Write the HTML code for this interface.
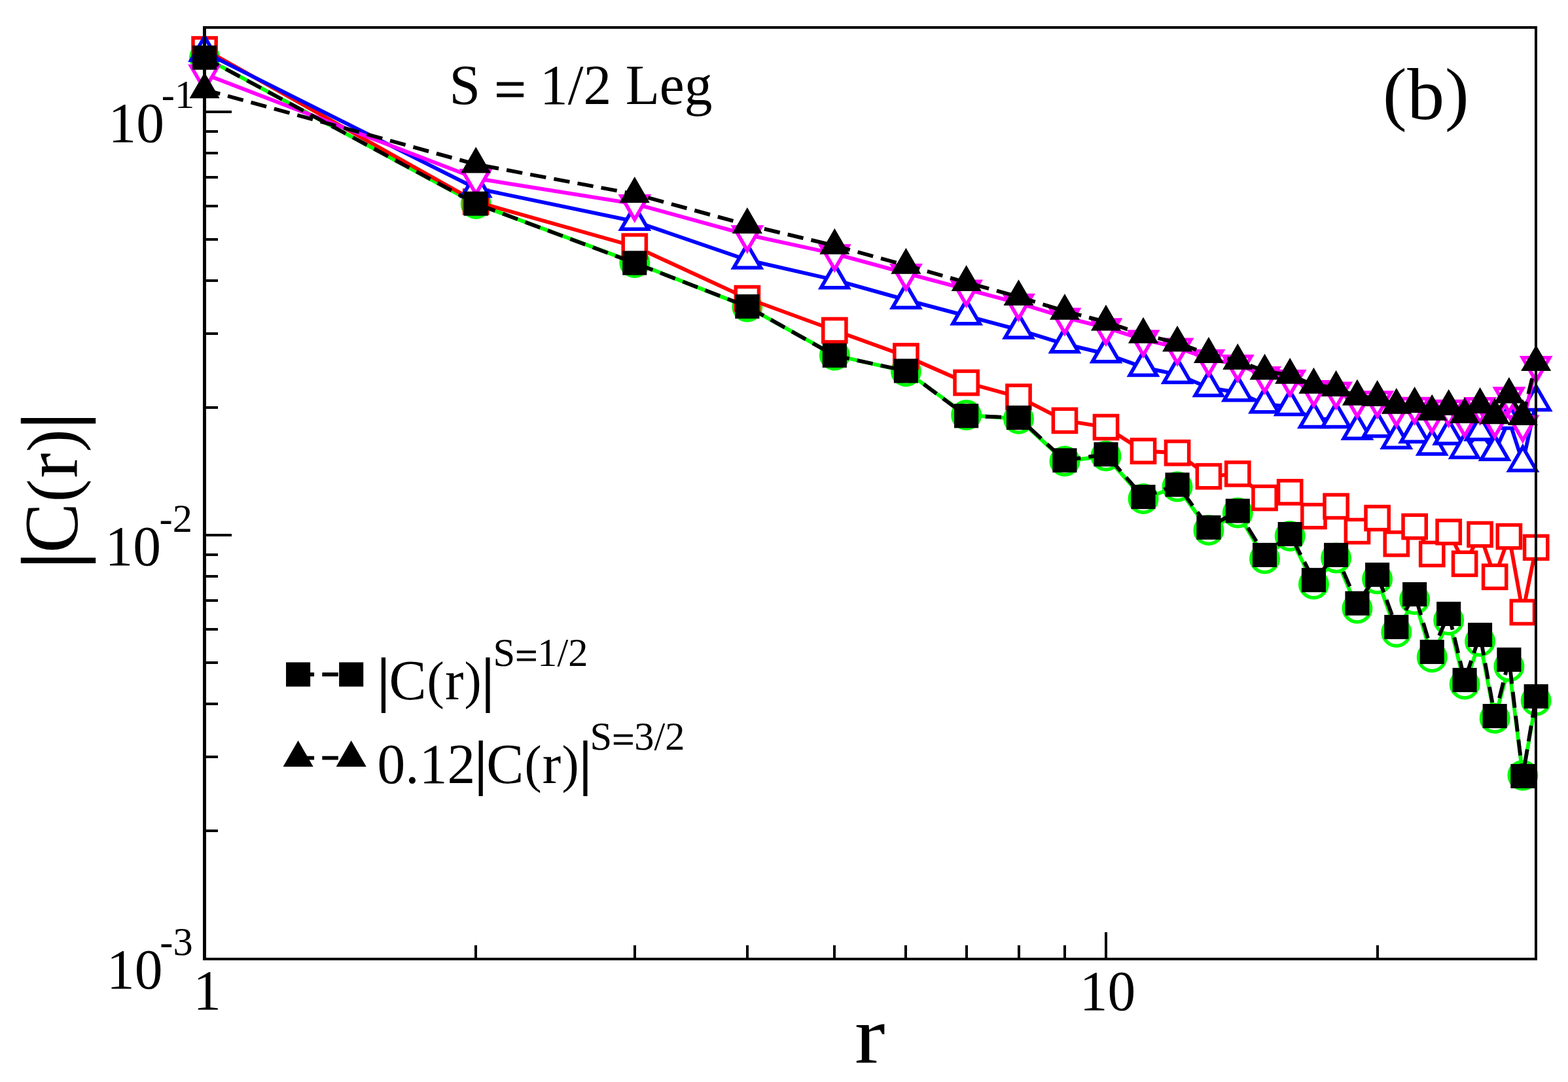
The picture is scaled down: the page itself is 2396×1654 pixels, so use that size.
<!DOCTYPE html>
<html lang="en"><head><meta charset="utf-8"><title>|C(r)| vs r</title>
<style>
html,body{margin:0;padding:0;background:#fff}
body{width:2396px;height:1654px;overflow:hidden}
svg{display:block}
text{font-family:"Liberation Serif","Times New Roman",serif;fill:#000}
</style></head><body>
<svg width="2396" height="1654" viewBox="0 0 2396 1654">
<rect width="2396" height="1654" fill="#fff"/>
<g stroke="#00ff00" fill="none">
<polyline points="312.6,88 727.24,311.5 969.79,401.5 1141.88,469 1275.36,543 1384.43,567.75 1476.64,634.4 1556.52,640.2 1626.97,705 1690,697 1747.01,762.5 1799.06,744 1846.95,810.5 1891.28,784 1932.55,854 1971.15,819.5 2007.42,893 2041.61,853 2073.96,930 2104.64,885 2133.82,966.5 2161.65,916.5 2188.24,1004.7 2213.7,948 2238.12,1046 2261.58,980.5 2284.16,1098 2305.92,1019 2326.91,1185.2 2347.19,1071" stroke-width="5.8" stroke-linejoin="round"/>
<g fill="#fff" stroke-width="5.5" stroke-linejoin="miter">
<circle cx="312.6" cy="88" r="20.7"/>
<circle cx="727.24" cy="311.5" r="20.7"/>
<circle cx="969.79" cy="401.5" r="20.7"/>
<circle cx="1141.88" cy="469" r="20.7"/>
<circle cx="1275.36" cy="543" r="20.7"/>
<circle cx="1384.43" cy="567.75" r="20.7"/>
<circle cx="1476.64" cy="634.4" r="20.7"/>
<circle cx="1556.52" cy="640.2" r="20.7"/>
<circle cx="1626.97" cy="705" r="20.7"/>
<circle cx="1690" cy="697" r="20.7"/>
<circle cx="1747.01" cy="762.5" r="20.7"/>
<circle cx="1799.06" cy="744" r="20.7"/>
<circle cx="1846.95" cy="810.5" r="20.7"/>
<circle cx="1891.28" cy="784" r="20.7"/>
<circle cx="1932.55" cy="854" r="20.7"/>
<circle cx="1971.15" cy="819.5" r="20.7"/>
<circle cx="2007.42" cy="893" r="20.7"/>
<circle cx="2041.61" cy="853" r="20.7"/>
<circle cx="2073.96" cy="930" r="20.7"/>
<circle cx="2104.64" cy="885" r="20.7"/>
<circle cx="2133.82" cy="966.5" r="20.7"/>
<circle cx="2161.65" cy="916.5" r="20.7"/>
<circle cx="2188.24" cy="1004.7" r="20.7"/>
<circle cx="2213.7" cy="948" r="20.7"/>
<circle cx="2238.12" cy="1046" r="20.7"/>
<circle cx="2261.58" cy="980.5" r="20.7"/>
<circle cx="2284.16" cy="1098" r="20.7"/>
<circle cx="2305.92" cy="1019" r="20.7"/>
<circle cx="2326.91" cy="1185.2" r="20.7"/>
<circle cx="2347.19" cy="1071" r="20.7"/>
</g></g>
<g stroke="#ff0000" fill="none">
<polyline points="312.6,75.5 727.24,308.4 969.79,376.7 1141.88,456.15 1275.36,505 1384.43,544.5 1476.64,585 1556.52,606.75 1626.97,642.9 1690,653 1747.01,689.5 1799.06,692.25 1846.95,728.2 1891.28,724.3 1932.55,761 1971.15,752.4 2007.42,789 2041.61,774 2073.96,812 2104.64,792 2133.82,831.2 2161.65,805 2188.24,846.9 2213.7,813.2 2238.12,861.8 2261.58,817 2284.16,881.8 2305.92,820.1 2326.91,935.9 2347.19,836.9" stroke-width="5.8" stroke-linejoin="round"/>
<g fill="#fff" stroke-width="5.5" stroke-linejoin="miter">
<rect x="295" y="57.9" width="35.2" height="35.2"/>
<rect x="709.64" y="290.8" width="35.2" height="35.2"/>
<rect x="952.19" y="359.1" width="35.2" height="35.2"/>
<rect x="1124.28" y="438.55" width="35.2" height="35.2"/>
<rect x="1257.76" y="487.4" width="35.2" height="35.2"/>
<rect x="1366.83" y="526.9" width="35.2" height="35.2"/>
<rect x="1459.04" y="567.4" width="35.2" height="35.2"/>
<rect x="1538.92" y="589.15" width="35.2" height="35.2"/>
<rect x="1609.37" y="625.3" width="35.2" height="35.2"/>
<rect x="1672.4" y="635.4" width="35.2" height="35.2"/>
<rect x="1729.41" y="671.9" width="35.2" height="35.2"/>
<rect x="1781.46" y="674.65" width="35.2" height="35.2"/>
<rect x="1829.35" y="710.6" width="35.2" height="35.2"/>
<rect x="1873.68" y="706.7" width="35.2" height="35.2"/>
<rect x="1914.95" y="743.4" width="35.2" height="35.2"/>
<rect x="1953.55" y="734.8" width="35.2" height="35.2"/>
<rect x="1989.82" y="771.4" width="35.2" height="35.2"/>
<rect x="2024.01" y="756.4" width="35.2" height="35.2"/>
<rect x="2056.36" y="794.4" width="35.2" height="35.2"/>
<rect x="2087.04" y="774.4" width="35.2" height="35.2"/>
<rect x="2116.22" y="813.6" width="35.2" height="35.2"/>
<rect x="2144.05" y="787.4" width="35.2" height="35.2"/>
<rect x="2170.64" y="829.3" width="35.2" height="35.2"/>
<rect x="2196.1" y="795.6" width="35.2" height="35.2"/>
<rect x="2220.52" y="844.2" width="35.2" height="35.2"/>
<rect x="2243.98" y="799.4" width="35.2" height="35.2"/>
<rect x="2266.56" y="864.2" width="35.2" height="35.2"/>
<rect x="2288.32" y="802.5" width="35.2" height="35.2"/>
<rect x="2309.31" y="918.3" width="35.2" height="35.2"/>
<rect x="2329.59" y="819.3" width="35.2" height="35.2"/>
</g></g>
<g stroke="#0000ff" fill="none">
<polyline points="312.6,80 727.24,287.9 969.79,338.4 1141.88,397.4 1275.36,427.9 1384.43,458.4 1476.64,482.9 1556.52,504.15 1626.97,525.9 1690,540.9 1747.01,561.55 1799.06,572.6 1846.95,592.6 1891.28,599.8 1932.55,617.8 1971.15,621.6 2007.42,640.6 2041.61,640.6 2073.96,658.2 2104.64,654.7 2133.82,672.2 2161.65,663.4 2188.24,682 2213.7,666.1 2238.12,687.2 2261.58,659.8 2284.16,690.4 2305.92,642.6 2326.91,707.2 2347.19,614.5" stroke-width="5.8" stroke-linejoin="round"/>
<g fill="#fff" stroke-width="5.5" stroke-linejoin="miter">
<polygon points="312.6,56.1 291.9,91.95 333.3,91.95"/>
<polygon points="727.24,264 706.54,299.85 747.94,299.85"/>
<polygon points="969.79,314.5 949.09,350.35 990.49,350.35"/>
<polygon points="1141.88,373.5 1121.18,409.35 1162.58,409.35"/>
<polygon points="1275.36,404 1254.66,439.85 1296.06,439.85"/>
<polygon points="1384.43,434.5 1363.73,470.35 1405.13,470.35"/>
<polygon points="1476.64,459 1455.94,494.85 1497.34,494.85"/>
<polygon points="1556.52,480.25 1535.82,516.1 1577.22,516.1"/>
<polygon points="1626.97,502 1606.27,537.85 1647.67,537.85"/>
<polygon points="1690,517 1669.3,552.85 1710.7,552.85"/>
<polygon points="1747.01,537.65 1726.31,573.5 1767.71,573.5"/>
<polygon points="1799.06,548.7 1778.36,584.55 1819.76,584.55"/>
<polygon points="1846.95,568.7 1826.25,604.55 1867.65,604.55"/>
<polygon points="1891.28,575.9 1870.58,611.75 1911.98,611.75"/>
<polygon points="1932.55,593.9 1911.85,629.75 1953.25,629.75"/>
<polygon points="1971.15,597.7 1950.45,633.55 1991.85,633.55"/>
<polygon points="2007.42,616.7 1986.72,652.55 2028.12,652.55"/>
<polygon points="2041.61,616.7 2020.91,652.55 2062.31,652.55"/>
<polygon points="2073.96,634.3 2053.26,670.15 2094.66,670.15"/>
<polygon points="2104.64,630.8 2083.94,666.65 2125.34,666.65"/>
<polygon points="2133.82,648.3 2113.12,684.15 2154.52,684.15"/>
<polygon points="2161.65,639.5 2140.95,675.35 2182.35,675.35"/>
<polygon points="2188.24,658.1 2167.54,693.95 2208.94,693.95"/>
<polygon points="2213.7,642.2 2193,678.05 2234.4,678.05"/>
<polygon points="2238.12,663.3 2217.42,699.15 2258.82,699.15"/>
<polygon points="2261.58,635.9 2240.88,671.75 2282.28,671.75"/>
<polygon points="2284.16,666.5 2263.46,702.35 2304.86,702.35"/>
<polygon points="2305.92,618.7 2285.22,654.55 2326.62,654.55"/>
<polygon points="2326.91,683.3 2306.21,719.15 2347.61,719.15"/>
<polygon points="2347.19,590.6 2326.49,626.45 2367.89,626.45"/>
</g></g>
<g stroke="#ff00ff" fill="none">
<polyline points="312.6,113.3 727.24,272.6 969.79,311.6 1141.88,358.85 1275.36,387.85 1384.43,417.6 1476.64,442.1 1556.52,463.35 1626.97,485.1 1690,500.85 1747.01,518.9 1799.06,531.3 1846.95,548.8 1891.28,556.8 1932.55,574.6 1971.15,579.6 2007.42,595.8 2041.61,598.3 2073.96,612.6 2104.64,612 2133.82,626.1 2161.65,621.5 2188.24,635.9 2213.7,625.4 2238.12,642.2 2261.58,621.7 2284.16,643.3 2305.92,606 2326.91,649.1 2347.19,558.8" stroke-width="5.8" stroke-linejoin="round"/>
<g fill="#fff" stroke-width="5.5" stroke-linejoin="miter">
<polygon points="312.6,137.2 291.9,101.35 333.3,101.35"/>
<polygon points="727.24,296.5 706.54,260.65 747.94,260.65"/>
<polygon points="969.79,335.5 949.09,299.65 990.49,299.65"/>
<polygon points="1141.88,382.75 1121.18,346.9 1162.58,346.9"/>
<polygon points="1275.36,411.75 1254.66,375.9 1296.06,375.9"/>
<polygon points="1384.43,441.5 1363.73,405.65 1405.13,405.65"/>
<polygon points="1476.64,466 1455.94,430.15 1497.34,430.15"/>
<polygon points="1556.52,487.25 1535.82,451.4 1577.22,451.4"/>
<polygon points="1626.97,509 1606.27,473.15 1647.67,473.15"/>
<polygon points="1690,524.75 1669.3,488.9 1710.7,488.9"/>
<polygon points="1747.01,542.8 1726.31,506.95 1767.71,506.95"/>
<polygon points="1799.06,555.2 1778.36,519.35 1819.76,519.35"/>
<polygon points="1846.95,572.7 1826.25,536.85 1867.65,536.85"/>
<polygon points="1891.28,580.7 1870.58,544.85 1911.98,544.85"/>
<polygon points="1932.55,598.5 1911.85,562.65 1953.25,562.65"/>
<polygon points="1971.15,603.5 1950.45,567.65 1991.85,567.65"/>
<polygon points="2007.42,619.7 1986.72,583.85 2028.12,583.85"/>
<polygon points="2041.61,622.2 2020.91,586.35 2062.31,586.35"/>
<polygon points="2073.96,636.5 2053.26,600.65 2094.66,600.65"/>
<polygon points="2104.64,635.9 2083.94,600.05 2125.34,600.05"/>
<polygon points="2133.82,650 2113.12,614.15 2154.52,614.15"/>
<polygon points="2161.65,645.4 2140.95,609.55 2182.35,609.55"/>
<polygon points="2188.24,659.8 2167.54,623.95 2208.94,623.95"/>
<polygon points="2213.7,649.3 2193,613.45 2234.4,613.45"/>
<polygon points="2238.12,666.1 2217.42,630.25 2258.82,630.25"/>
<polygon points="2261.58,645.6 2240.88,609.75 2282.28,609.75"/>
<polygon points="2284.16,667.2 2263.46,631.35 2304.86,631.35"/>
<polygon points="2305.92,629.9 2285.22,594.05 2326.62,594.05"/>
<polygon points="2326.91,673 2306.21,637.15 2347.61,637.15"/>
<polygon points="2347.19,582.7 2326.49,546.85 2367.89,546.85"/>
</g></g>
<g stroke="#000" fill="none">
<polyline points="312.6,88.1 727.24,311.25 969.79,402 1141.88,468.5 1275.36,543.4 1384.43,567 1476.64,635.75 1556.52,638.5 1626.97,703.75 1690,694.6 1747.01,759.6 1799.06,741 1846.95,806.3 1891.28,781 1932.55,848.4 1971.15,816.5 2007.42,886.7 2041.61,848.4 2073.96,922.3 2104.64,878.6 2133.82,958.5 2161.65,908.5 2188.24,996.5 2213.7,938.4 2238.12,1039.5 2261.58,970.5 2284.16,1094.6 2305.92,1008.4 2326.91,1186.5 2347.19,1064.5" stroke-width="5.8" stroke-linejoin="round" stroke-dasharray="24.5 12.25"/>
<g fill="#000" stroke-width="1.9" stroke-linejoin="miter">
<rect x="295" y="70.5" width="35.2" height="35.2"/>
<rect x="709.64" y="293.65" width="35.2" height="35.2"/>
<rect x="952.19" y="384.4" width="35.2" height="35.2"/>
<rect x="1124.28" y="450.9" width="35.2" height="35.2"/>
<rect x="1257.76" y="525.8" width="35.2" height="35.2"/>
<rect x="1366.83" y="549.4" width="35.2" height="35.2"/>
<rect x="1459.04" y="618.15" width="35.2" height="35.2"/>
<rect x="1538.92" y="620.9" width="35.2" height="35.2"/>
<rect x="1609.37" y="686.15" width="35.2" height="35.2"/>
<rect x="1672.4" y="677" width="35.2" height="35.2"/>
<rect x="1729.41" y="742" width="35.2" height="35.2"/>
<rect x="1781.46" y="723.4" width="35.2" height="35.2"/>
<rect x="1829.35" y="788.7" width="35.2" height="35.2"/>
<rect x="1873.68" y="763.4" width="35.2" height="35.2"/>
<rect x="1914.95" y="830.8" width="35.2" height="35.2"/>
<rect x="1953.55" y="798.9" width="35.2" height="35.2"/>
<rect x="1989.82" y="869.1" width="35.2" height="35.2"/>
<rect x="2024.01" y="830.8" width="35.2" height="35.2"/>
<rect x="2056.36" y="904.7" width="35.2" height="35.2"/>
<rect x="2087.04" y="861" width="35.2" height="35.2"/>
<rect x="2116.22" y="940.9" width="35.2" height="35.2"/>
<rect x="2144.05" y="890.9" width="35.2" height="35.2"/>
<rect x="2170.64" y="978.9" width="35.2" height="35.2"/>
<rect x="2196.1" y="920.8" width="35.2" height="35.2"/>
<rect x="2220.52" y="1021.9" width="35.2" height="35.2"/>
<rect x="2243.98" y="952.9" width="35.2" height="35.2"/>
<rect x="2266.56" y="1077" width="35.2" height="35.2"/>
<rect x="2288.32" y="990.8" width="35.2" height="35.2"/>
<rect x="2309.31" y="1168.9" width="35.2" height="35.2"/>
<rect x="2329.59" y="1046.9" width="35.2" height="35.2"/>
</g></g>
<g stroke="#000" fill="none">
<polyline points="312.6,137 727.24,251.2 969.79,296.6 1141.88,343.7 1275.36,375.5 1384.43,405.5 1476.64,431.75 1556.52,453.75 1626.97,475.5 1690,492.25 1747.01,511.4 1799.06,524.25 1846.95,541.6 1891.28,551.6 1932.55,567.25 1971.15,573.5 2007.42,588.4 2041.61,592.6 2073.96,606.4 2104.64,607.7 2133.82,619.5 2161.65,617.6 2188.24,629.4 2213.7,621.5 2238.12,633.8 2261.58,618.6 2284.16,635 2305.92,603.2 2326.91,636.8 2347.19,553.8" stroke-width="5.8" stroke-linejoin="round" stroke-dasharray="24.5 12.25"/>
<g fill="#000" stroke-width="2.7" stroke-linejoin="miter">
<polygon points="312.6,113.1 291.9,148.95 333.3,148.95"/>
<polygon points="727.24,227.3 706.54,263.15 747.94,263.15"/>
<polygon points="969.79,272.7 949.09,308.55 990.49,308.55"/>
<polygon points="1141.88,319.8 1121.18,355.65 1162.58,355.65"/>
<polygon points="1275.36,351.6 1254.66,387.45 1296.06,387.45"/>
<polygon points="1384.43,381.6 1363.73,417.45 1405.13,417.45"/>
<polygon points="1476.64,407.85 1455.94,443.7 1497.34,443.7"/>
<polygon points="1556.52,429.85 1535.82,465.7 1577.22,465.7"/>
<polygon points="1626.97,451.6 1606.27,487.45 1647.67,487.45"/>
<polygon points="1690,468.35 1669.3,504.2 1710.7,504.2"/>
<polygon points="1747.01,487.5 1726.31,523.35 1767.71,523.35"/>
<polygon points="1799.06,500.35 1778.36,536.2 1819.76,536.2"/>
<polygon points="1846.95,517.7 1826.25,553.55 1867.65,553.55"/>
<polygon points="1891.28,527.7 1870.58,563.55 1911.98,563.55"/>
<polygon points="1932.55,543.35 1911.85,579.2 1953.25,579.2"/>
<polygon points="1971.15,549.6 1950.45,585.45 1991.85,585.45"/>
<polygon points="2007.42,564.5 1986.72,600.35 2028.12,600.35"/>
<polygon points="2041.61,568.7 2020.91,604.55 2062.31,604.55"/>
<polygon points="2073.96,582.5 2053.26,618.35 2094.66,618.35"/>
<polygon points="2104.64,583.8 2083.94,619.65 2125.34,619.65"/>
<polygon points="2133.82,595.6 2113.12,631.45 2154.52,631.45"/>
<polygon points="2161.65,593.7 2140.95,629.55 2182.35,629.55"/>
<polygon points="2188.24,605.5 2167.54,641.35 2208.94,641.35"/>
<polygon points="2213.7,597.6 2193,633.45 2234.4,633.45"/>
<polygon points="2238.12,609.9 2217.42,645.75 2258.82,645.75"/>
<polygon points="2261.58,594.7 2240.88,630.55 2282.28,630.55"/>
<polygon points="2284.16,611.1 2263.46,646.95 2304.86,646.95"/>
<polygon points="2305.92,579.3 2285.22,615.15 2326.62,615.15"/>
<polygon points="2326.91,612.9 2306.21,648.75 2347.61,648.75"/>
<polygon points="2347.19,529.9 2326.49,565.75 2367.89,565.75"/>
</g></g>
<g stroke="#000" fill="none" shape-rendering="crispEdges">
<path fill="#000" stroke="none" d="M310 40H2349V1468H310ZM315 44V1464H2345V44Z" fill-rule="evenodd"/>
<path d="M312.6 171.25h41 M312.6 818.25h41 M312.6 623.48h20.5 M312.6 509.55h20.5 M312.6 428.72h20.5 M312.6 366.02h20.5 M312.6 314.79h20.5 M312.6 271.47h20.5 M312.6 233.95h20.5 M312.6 200.86h20.5 M312.6 1270.48h20.5 M312.6 1156.55h20.5 M312.6 1075.72h20.5 M312.6 1013.02h20.5 M312.6 961.79h20.5 M312.6 918.47h20.5 M312.6 880.95h20.5 M312.6 847.86h20.5 M727.24 1465.8v-20.5 M969.79 1465.8v-20.5 M1141.88 1465.8v-20.5 M1275.36 1465.8v-20.5 M1384.43 1465.8v-20.5 M1476.64 1465.8v-20.5 M1556.52 1465.8v-20.5 M1626.97 1465.8v-20.5 M1690 1465.8v-41 M2104.64 1465.8v-20.5" stroke-width="4"/>
</g>
<g stroke="#000" fill="#000">
<line x1="455.6" y1="1031" x2="536.7" y2="1031" stroke-width="5.8" stroke-dasharray="24.5 12.25"/>
<rect x="438" y="1013.4" width="35.2" height="35.2" stroke-width="1.9"/>
<rect x="519.1" y="1013.4" width="35.2" height="35.2" stroke-width="1.9"/>
</g>
<g stroke="#000" fill="#000">
<line x1="455.6" y1="1158.6" x2="536.7" y2="1158.6" stroke-width="5.8" stroke-dasharray="24.5 12.25"/>
<polygon points="455.6,1134.7 434.9,1170.55 476.3,1170.55" stroke-width="2.7"/>
<polygon points="536.7,1134.7 516,1170.55 557.4,1170.55" stroke-width="2.7"/>
</g>
<text transform="translate(165.5 217.3) scale(1 1.022)" font-size="85.5">10</text>
<text transform="translate(246.8 165) scale(1 1.022)" font-size="60.5">-1</text>
<text transform="translate(160.5 863.5) scale(1 1.022)" font-size="85.5">10</text>
<text transform="translate(243.5 813) scale(1 1.022)" font-size="60.5">-2</text>
<text transform="translate(163 1511) scale(1 1.022)" font-size="85.5">10</text>
<text transform="translate(244.3 1459.8) scale(1 1.022)" font-size="60.5">-3</text>
<text transform="translate(316.5 1543.2) scale(1 1.022)" font-size="85.5" text-anchor="middle">1</text>
<text transform="translate(1692.5 1543.7) scale(1 1.022)" font-size="85.5" text-anchor="middle">10</text>
<text transform="translate(1329.2 1623.75) scale(1 0.892)" font-size="139.8" text-anchor="middle">r</text>
<text transform="translate(686.5 159.2) scale(1 1.022)" font-size="85.5">S <tspan dy="6.53" stroke="#000" stroke-width="1.2">=</tspan><tspan dy="-6.53"> 1/2 Leg</tspan></text>
<text transform="translate(2112.3 182) scale(1 0.975)" font-size="114"><tspan font-size="109.97" dy="-2.72" dx="0.67">(</tspan><tspan dy="2.72" dx="0.67">b</tspan><tspan font-size="109.97" dy="-2.72" dx="0.67">)</tspan></text>
<text transform="translate(577.3 1069.1) scale(1 1.022)" font-size="85.5"><tspan font-size="89.53" dy="0.44" dx="-0.4" stroke="#000" stroke-width="1.76">|</tspan><tspan dy="-0.44" dx="-0.4">C</tspan><tspan font-size="78.68" dy="-1.95" dx="1.14">(</tspan><tspan dy="1.95" dx="1.14">r</tspan><tspan font-size="78.68" dy="-1.95" dx="1.14">)</tspan><tspan font-size="89.53" dy="2.39" dx="0.73" stroke="#000" stroke-width="1.76">|</tspan></text>
<text transform="translate(753.5 1018) scale(1 1.022)" font-size="60.5">S<tspan dy="4.62" stroke="#000" stroke-width="0.85">=</tspan><tspan dy="-4.62">1/2</tspan></text>
<text transform="translate(576.6 1197) scale(1 1.022)" font-size="85.5">0.12<tspan font-size="89.53" dy="0.44" dx="-0.4" stroke="#000" stroke-width="1.76">|</tspan><tspan dy="-0.44" dx="-0.4">C</tspan><tspan font-size="78.68" dy="-1.95" dx="1.14">(</tspan><tspan dy="1.95" dx="1.14">r</tspan><tspan font-size="78.68" dy="-1.95" dx="1.14">)</tspan><tspan font-size="89.53" dy="2.39" dx="0.73" stroke="#000" stroke-width="1.76">|</tspan></text>
<text transform="translate(901.5 1146) scale(1 1.022)" font-size="60.5">S<tspan dy="4.62" stroke="#000" stroke-width="0.85">=</tspan><tspan dy="-4.62">3/2</tspan></text>
<text transform="translate(118.4 750) rotate(-90) scale(1 1.02)" x="-118.28" font-size="114.5"><tspan font-size="119.9" dy="0.59" dx="-0.54" stroke="#000" stroke-width="2.36">|</tspan><tspan dy="-0.59" dx="-0.54">C</tspan><tspan font-size="105.37" dy="-2.61" dx="1.52">(</tspan><tspan dy="2.61" dx="1.52">r</tspan><tspan font-size="105.37" dy="-2.61" dx="1.52">)</tspan><tspan font-size="119.9" dy="3.2" dx="0.98" stroke="#000" stroke-width="2.36">|</tspan></text>
</svg>
</body></html>
